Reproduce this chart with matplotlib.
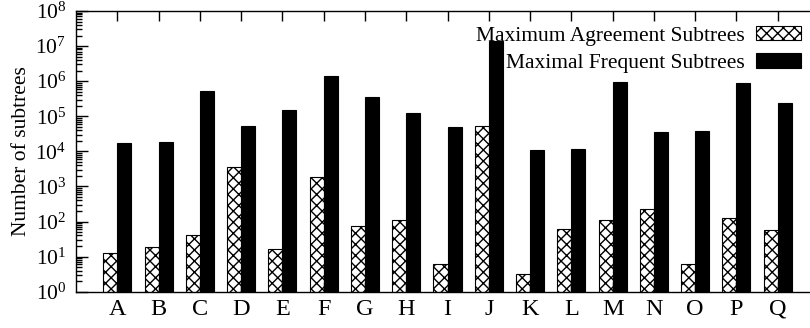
import numpy as np
import matplotlib
matplotlib.use('Agg')
import matplotlib.pyplot as plt
from matplotlib.ticker import LogLocator, NullFormatter

datasets = ['A', 'B', 'C', 'D', 'E', 'F', 'G', 'H', 'I', 'J', 'K', 'L', 'M', 'N', 'O', 'P', 'Q']
agreement = [12.5, 18.5, 41, 3500, 16, 1900, 74, 112, 6, 54000, 3.2, 61, 112, 226, 6, 125, 57]
frequent = [17400, 19000, 510000, 54000, 148000, 1360000, 365000, 122000, 51000,
            13600000, 11200, 12000, 920000, 36500, 37000, 860000, 245000]

plt.rcParams['font.family'] = ['Liberation Serif', 'DejaVu Serif']
plt.rcParams['mathtext.fontset'] = 'custom'
plt.rcParams['mathtext.rm'] = 'Liberation Serif'
plt.rcParams['hatch.linewidth'] = 1.0
plt.rcParams['font.size'] = 15.5

fig = plt.figure(figsize=(8.1, 3.28), dpi=100)
ax = fig.add_axes([76 / 810, 1 - 291.7 / 328, 743 / 810, 280.7 / 328])

x = np.arange(len(datasets))
w = 0.34
ax.bar(x - w / 2, agreement, w, color='white', edgecolor='black', hatch='xxx',
       linewidth=0.8, label='Maximum Agreement Subtrees')
ax.bar(x + w / 2, frequent, w, color='black', edgecolor='black', linewidth=0.8,
       label='Maximal Frequent Subtrees')

ax.set_yscale('log')
ax.set_ylim(1, 1e8)
ax.set_xlim(-1, 17)
ax.set_xticks(x)
ax.set_xticklabels(datasets, fontsize=17.5)
ax.yaxis.set_major_locator(LogLocator(base=10, numticks=20))
ax.yaxis.set_minor_locator(LogLocator(base=10, subs=np.arange(2, 10), numticks=20))
ax.yaxis.set_minor_formatter(NullFormatter())
ax.tick_params(axis='x', which='both', direction='in', top=True, length=7, width=1, pad=5)
ax.tick_params(axis='y', which='major', direction='in', length=8.5, width=1, pad=7)
ax.tick_params(axis='y', which='minor', direction='in', length=4.5, width=1)
for s in ax.spines.values():
    s.set_linewidth(1)
ax.set_ylabel('Number of subtrees', labelpad=3)

ax.legend(loc='upper right', bbox_to_anchor=(801 / 810, 1 - 26 / 328),
          bbox_transform=fig.transFigure, frameon=False, markerfirst=False,
          borderpad=0, borderaxespad=0, handlelength=2.1, handleheight=0.65,
          handletextpad=0.5, labelspacing=0.35)

fig.savefig('out.png', dpi=100)
